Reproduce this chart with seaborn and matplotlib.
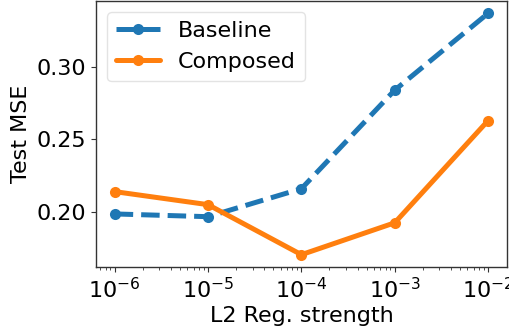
import matplotlib
matplotlib.use("Agg")
import matplotlib.pyplot as plt
import seaborn as sns
import pandas as pd

reg_strength = [1e-6, 1e-5, 1e-4, 1e-3, 1e-2]
baseline_mse = [0.1986, 0.1967, 0.2160, 0.2840, 0.3370]
composed_mse = [0.2140, 0.2050, 0.1705, 0.1925, 0.2630]
series_names = ["Baseline", "Composed"]

sns.set_style("white")
plt.rcParams.update({
    "font.family": ["DejaVu Sans"],
    "axes.edgecolor": "#333333",
    "text.color": "black",
    "axes.labelcolor": "black",
    "xtick.bottom": True, "ytick.left": True,
    "xtick.direction": "out", "ytick.direction": "out",
})

df = pd.DataFrame({
    "x": reg_strength * 2,
    "y": baseline_mse + composed_mse,
    "series": [series_names[0]] * 5 + [series_names[1]] * 5,
})

fig = plt.figure(figsize=(5.09, 3.28), dpi=100)
ax = fig.add_axes([0.1886, 0.186, 0.807, 0.811])

colors = {"Baseline": "#1f77b4", "Composed": "#ff7f0e"}
styles = {"Baseline": "--", "Composed": "-"}
for name in series_names:
    sub = df[df["series"] == name]
    sns.lineplot(data=sub, x="x", y="y", ax=ax, color=colors[name],
                 linestyle=styles[name], marker="o", markersize=8,
                 markeredgewidth=0, linewidth=3.6, label=name)

ax.set_xscale("log")
ax.set_ylim(0.162, 0.3455)
ax.set_yticks([0.20, 0.25, 0.30])
ax.set_yticklabels(["0.20", "0.25", "0.30"])
ax.tick_params(axis="both", labelsize=16, labelcolor="black")
ax.tick_params(axis="both", which="both", color="#333333")
ax.set_xlabel("L2 Reg. strength", fontsize=16, labelpad=3, color="black")
ax.set_ylabel("Test MSE", fontsize=16, color="black")
for s in ax.spines.values():
    s.set_linewidth(1.0)
leg = ax.legend(loc="upper left", fontsize=16, frameon=True, handlelength=2.0)
leg.get_frame().set_edgecolor("#dddddd")
for t in leg.get_texts():
    t.set_color("black")

fig.savefig("out.png", dpi=100)
